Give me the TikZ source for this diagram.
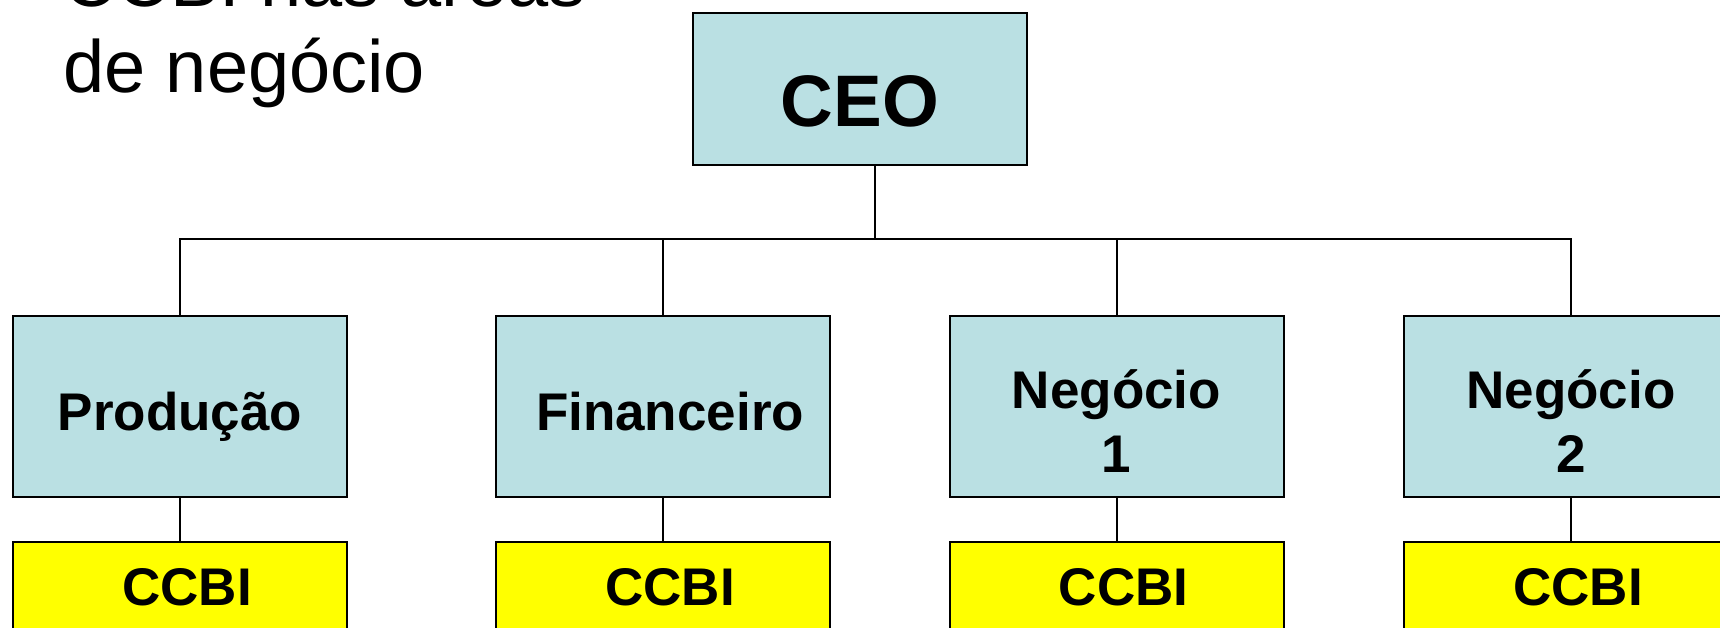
\documentclass[tikz,border=0pt]{standalone}
\usepackage{fontspec}
\setmainfont{Liberation Sans}
\definecolor{boxblue}{HTML}{BAE0E3}
\definecolor{ccbiyellow}{HTML}{FFFF00}
\tikzset{
  orgbox/.style={draw=black, line width=2pt, inner sep=0pt, minimum width=334pt, align=center},
  ceobox/.style={orgbox, fill=boxblue, minimum height=152pt, font=\bfseries\fontsize{73}{88}\selectfont, text height=76pt, text depth=0pt},
  unitbox/.style={orgbox, fill=boxblue, minimum height=181pt, font=\bfseries\fontsize{53}{64}\selectfont},
  onel/.style={text height=47pt, text depth=0pt},
  twol/.style={text height=131pt, text depth=0pt},
  ccbibox/.style={orgbox, fill=ccbiyellow, minimum height=90pt, font=\bfseries\fontsize{53}{64}\selectfont, text height=36pt, text depth=0pt},
  conn/.style={draw=black, line width=2pt},
  titletext/.style={anchor=base west, inner sep=0pt, font=\fontsize{74}{88}\selectfont}
}
\newcommand{\txtnudge}{\hspace*{14pt}}
\begin{document}
\begin{tikzpicture}[x=1pt, y=-1pt]
\useasboundingbox (0,0) rectangle (1720,628);
\clip (0,0) rectangle (1720,628);
% title (partly cut off, as in the reference)
\node[titletext] (t1) at (63,7) {CCBI nas áreas};
\node[titletext] (t2) at (63,93) {de negócio};
% boxes
\node[ceobox] (ceo) at (860,89) {CEO};
\node[unitbox, onel] (prod) at (180,406.5) {Produção};
\node[unitbox, onel] (fin) at (663,406.5) {\txtnudge Financeiro};
\node[unitbox, twol] (neg1) at (1116.5,406.5) {Negócio\\1};
\node[unitbox, twol] (neg2) at (1571,406.5) {Negócio\\2};
\node[ccbibox] (c1) at (180,587) {\txtnudge CCBI};
\node[ccbibox] (c2) at (663,587) {\txtnudge CCBI};
\node[ccbibox] (c3) at (1116.5,587) {\txtnudge CCBI};
\node[ccbibox] (c4) at (1571,587) {\txtnudge CCBI};
% connectors
\coordinate (bus) at (875,239);
\draw[conn] (ceo.south -| bus) -- (bus);
\draw[conn] (prod.north) |- (bus) -| (neg2.north);
\draw[conn] (fin.north) -- (fin.north |- bus);
\draw[conn] (neg1.north) -- (neg1.north |- bus);
\draw[conn] (prod.south) -- (c1.north);
\draw[conn] (fin.south) -- (c2.north);
\draw[conn] (neg1.south) -- (c3.north);
\draw[conn] (neg2.south) -- (c4.north);
\end{tikzpicture}
\end{document}
